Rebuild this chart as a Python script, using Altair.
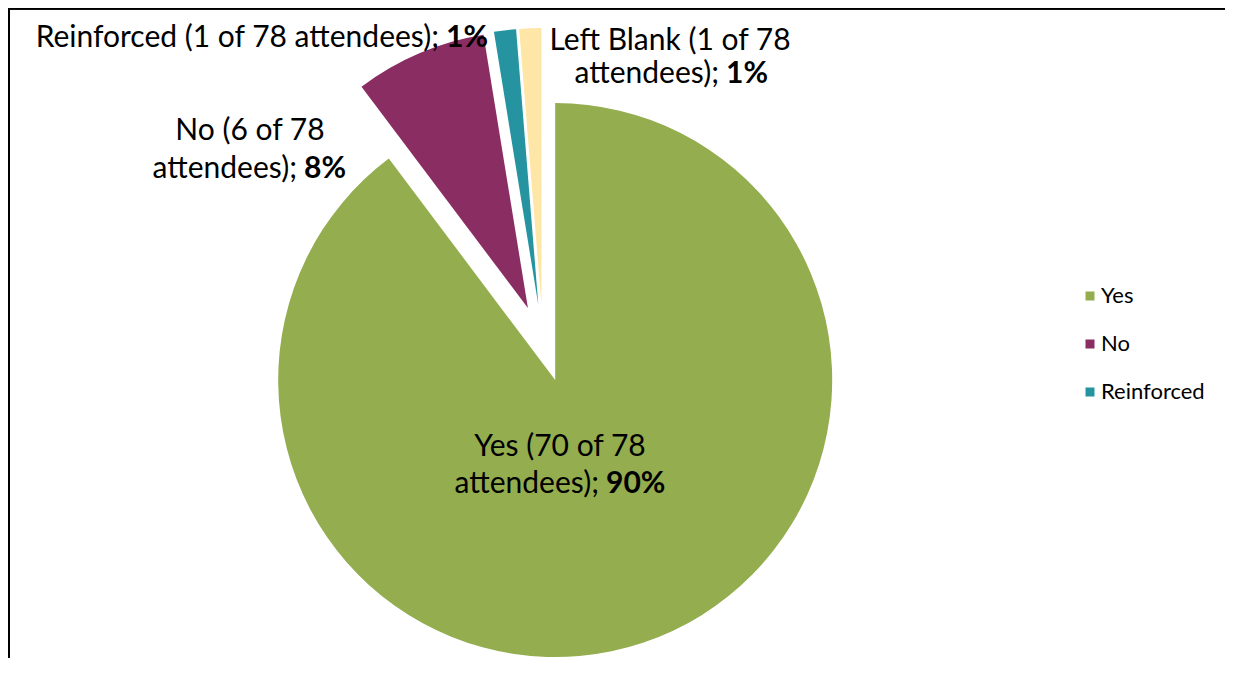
import altair as alt
import pandas as pd

# ---- data ----
answers = ["Yes", "No", "Reinforced", "Left Blank"]
counts = [70, 6, 1, 1]
total_attendees = 78
colors = ["#93AD4F", "#8A2D63", "#2594A0", "#FEE6A6"]
legend_entries = ["Yes", "No", "Reinforced"]

# ---- layout (chart pixel coordinates) ----
FONT = "Lato"
CX, CY = 535, 335.5
R = 277
EXPLODE = 38.5
LABEL_SIZE = 30

df = pd.DataFrame({"answer": answers, "count": counts, "order": list(range(len(answers)))})

base = (
    alt.Chart(df)
    .transform_window(cum="sum(count)", sort=[alt.SortField("order")], frame=[None, 0])
    .transform_joinaggregate(total="sum(count)")
    .transform_calculate(
        t0="2*PI*(datum.cum - datum.count)/datum.total",
        t1="2*PI*datum.cum/datum.total",
    )
    .transform_calculate(mid="(datum.t0 + datum.t1)/2")
    .transform_calculate(
        px=f"{CX} + {EXPLODE}*sin(datum.mid)",
        py=f"{CY} - {EXPLODE}*cos(datum.mid)",
    )
)

pie = base.mark_arc(radius=R).encode(
    x=alt.X("px:Q", scale=None, axis=None),
    y=alt.Y("py:Q", scale=None, axis=None),
    theta=alt.Theta("t0:Q", scale=None, stack=None),
    theta2="t1:Q",
    color=alt.Color(
        "answer:N",
        scale=alt.Scale(domain=answers, range=colors),
        legend=alt.Legend(
            values=legend_entries,
            title=None,
            orient="none",
            legendX=1071,
            legendY=277,
            symbolType="square",
            symbolSize=81,
            symbolStrokeWidth=0,
            labelFont=FONT,
            labelFontSize=22,
            labelColor="#000000",
            labelOffset=0,
            rowPadding=26,
        ),
    ),
)

# ---- labels: regular part + bold percentage ----
def pct(n):
    return f"{round(100 * n / total_attendees)}%"

label_rows = []
# (text, weight, anchor, x, y)
label_rows.append((f"{answers[0]} ({counts[0]} of {total_attendees}", "normal", "center", 552, 448))
label_rows.append(("attendees);", "normal", "right", 591, 485))
label_rows.append((pct(counts[0]), "bold", "left", 598, 485))

label_rows.append((f"{answers[1]} ({counts[1]} of {total_attendees}", "normal", "center", 242, 132))
label_rows.append(("attendees);", "normal", "right", 289, 170))
label_rows.append((pct(counts[1]), "bold", "left", 296, 170))

label_rows.append((f"{answers[2]} ({counts[2]} of {total_attendees} attendees);", "normal", "right", 431, 39))
label_rows.append((pct(counts[2]), "bold", "left", 438, 39))

label_rows.append((f"{answers[3]} ({counts[3]} of {total_attendees}", "normal", "center", 662, 42))
label_rows.append(("attendees);", "normal", "right", 711, 75))
label_rows.append((pct(counts[3]), "bold", "left", 718, 75))

labels_df = pd.DataFrame(label_rows, columns=["text", "wt", "anchor", "lx", "ly"])

def label_layer(weight, anchor):
    sub = labels_df[(labels_df["wt"] == weight) & (labels_df["anchor"] == anchor)]
    return alt.Chart(sub).mark_text(
        font=FONT, fontSize=LABEL_SIZE, fontWeight=weight, align=anchor,
        baseline="alphabetic", color="#000000",
    ).encode(
        x=alt.X("lx:Q", scale=None, axis=None),
        y=alt.Y("ly:Q", scale=None, axis=None),
        text="text:N",
    )

labels = [
    label_layer("normal", "center"),
    label_layer("normal", "right"),
    label_layer("bold", "left"),
]

frame_left = alt.Chart(df).mark_rule(color="#000000", strokeWidth=2).encode(
    x=alt.value(1), y=alt.value(0), y2=alt.value(700)
)
frame_top = alt.Chart(df).mark_rule(color="#000000", strokeWidth=2).encode(
    x=alt.value(0), x2=alt.value(1300), y=alt.value(0.5)
)

chart = (
    alt.layer(pie, *labels, frame_left, frame_top)
    .properties(width=1217, height=650, autosize=alt.AutoSizeParams(type="none"), padding=0)
    .configure_view(stroke=None)
    .configure(background="#ffffff")
)

chart.save("out.html", embed_options={"renderer": "svg", "actions": False})
